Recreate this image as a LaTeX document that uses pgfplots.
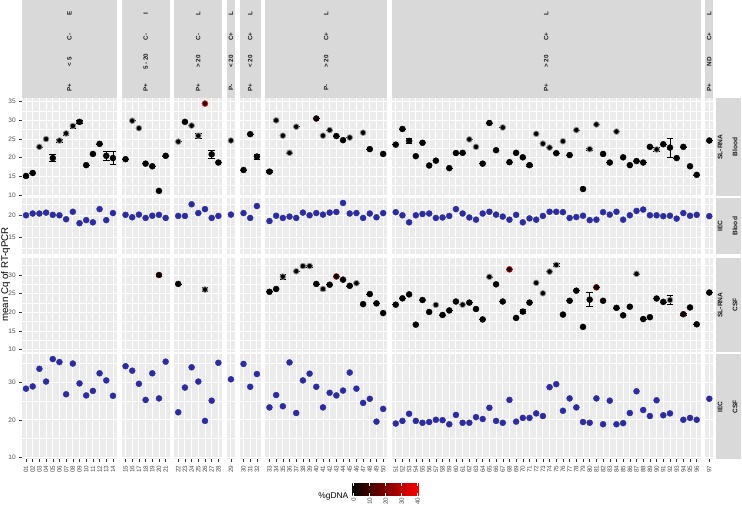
\documentclass[border=0pt]{standalone}
\usepackage{fontspec}
\setmainfont{Liberation Sans}
\usepackage{pgfplots}
\usepackage{pgfplotstable}
\pgfplotsset{compat=1.18}

\definecolor{g92}{RGB}{235,235,235}
\definecolor{g85}{RGB}{217,217,217}
\definecolor{g30}{RGB}{77,77,77}
\definecolor{g20}{RGB}{51,51,51}
\definecolor{g10}{RGB}{26,26,26}
\definecolor{faint}{RGB}{141,141,141}
\definecolor{iec}{RGB}{44,44,158}

% s = sample, p = panel, y = mean Cq, e = error, g = %gDNA
\pgfplotstableread{
s p y e g
1 1 15.1 0.3 0
2 1 15.9 0 0
5 1 19.9 0.9 0
9 1 29.6 0.4 0
10 1 18.0 0 0
11 1 21.0 0 0
12 1 23.7 0 0
13 1 20.5 1.3 0
14 1 19.9 1.7 0
15 2 19.6 0 0
18 2 18.4 0 0
19 2 17.7 0 0
20 2 11.1 0 0
21 2 20.5 0 0
23 3 29.6 0 0
26 3 34.5 0 40
27 3 20.9 1.0 0
28 3 18.7 0 0
30 5 16.7 0 0
31 5 26.3 0 0
32 5 20.3 0.7 0
33 6 16.25 0.3 0
40 6 30.5 0 5
43 6 25.8 0 0
44 6 24.7 0 0
48 6 22.3 0 0
50 6 21.0 0 0
51 7 23.5 0 0
52 7 27.7 0 0
53 7 24.5 0.7 0
54 7 20.4 0 0
55 7 24.0 0 0
56 7 17.9 0 0
57 7 19.2 0 0
59 7 17.2 0 0
60 7 21.25 0 0
61 7 21.3 0 0
64 7 18.4 0 0
65 7 29.3 0 0
66 7 22.0 0 0
68 7 18.8 0 0
69 7 21.3 0 0
70 7 20.1 0 0
71 7 18.0 0.3 0
75 7 21.2 0 0
77 7 20.7 0 0
79 7 11.6 0 0
82 7 21.0 0 0
83 7 18.7 0 0
85 7 20.1 0 0
86 7 18.0 0 0
87 7 19.1 0 0
88 7 18.7 0 0
89 7 22.9 0 0
91 7 23.6 0 0
92 7 22.7 2.5 0
93 7 19.9 0 0
94 7 22.9 0 0
95 7 17.7 0 0
96 7 15.4 0 0
97 8 24.6 0 0
}\slbloodA

\pgfplotstableread{
s p y e
3 1 22.9 0
4 1 25.0 0
6 1 24.6 0.4
7 1 26.5 0.4
8 1 28.5 0.5
16 2 29.9 0
17 2 27.9 0
22 3 24.3 0
24 3 28.6 0
25 3 25.9 0.7
29 4 24.6 0
34 6 30.0 0.3
35 6 25.9 0
36 6 21.3 0
37 6 28.3 0
41 6 25.9 0
42 6 27.4 0
45 6 25.4 0
47 6 26.7 0
62 7 24.9 0
63 7 22.9 0
67 7 28.1 0
72 7 26.4 0
73 7 23.75 0
74 7 22.7 0
76 7 24.4 0
78 7 27.4 0
80 7 22.3 0.3
81 7 28.9 0
84 7 27.0 0
90 7 22.2 0.5
}\slbloodB

\pgfplotstableread{
s p y
1 1 20.0
2 1 20.4
3 1 20.4
4 1 20.6
5 1 20.1
6 1 20.0
7 1 19.1
8 1 20.8
9 1 18.2
10 1 18.9
11 1 18.4
12 1 21.4
13 1 18.9
14 1 20.5
15 2 20.1
16 2 19.55
17 2 20.15
18 2 19.4
19 2 19.9
20 2 20.1
21 2 19.4
22 3 19.85
23 3 19.85
24 3 22.5
25 3 20.5
26 3 21.4
27 3 19.4
28 3 19.85
29 4 20.15
30 5 20.5
31 5 19.4
32 5 22.1
33 6 18.7
34 6 19.9
35 6 19.4
36 6 19.7
37 6 19.4
38 6 20.6
39 6 20.0
40 6 20.5
41 6 20.15
42 6 20.6
43 6 20.75
44 6 22.8
45 6 20.4
46 6 20.5
47 6 19.4
48 6 20.4
49 6 19.55
50 6 20.5
51 7 20.7
52 7 20.0
53 7 18.4
54 7 20.0
55 7 20.3
56 7 20.4
57 7 19.4
58 7 19.5
59 7 19.85
60 7 21.4
61 7 20.4
62 7 19.5
63 7 19.0
64 7 20.4
65 7 20.8
66 7 20.15
67 7 19.7
68 7 19.0
69 7 20.1
70 7 18.4
71 7 19.3
72 7 19.0
73 7 19.85
74 7 20.8
75 7 20.8
76 7 20.7
77 7 19.4
78 7 19.6
79 7 19.9
80 7 18.9
81 7 19.0
82 7 20.7
83 7 20.15
84 7 20.8
85 7 19.0
86 7 20.0
87 7 21.0
88 7 21.3
89 7 20.0
90 7 20.0
91 7 19.8
92 7 19.9
93 7 19.25
94 7 20.5
95 7 19.9
96 7 20.1
97 8 19.8
}\iecblood

\pgfplotstableread{
s p y e g
20 2 30.0 0.3 8
22 3 27.6 0 0
33 6 25.5 0 0
34 6 26.25 0 0
40 6 27.6 0 0
42 6 27.4 0 0
43 6 29.6 0 18
44 6 28.75 0 0
45 6 27.1 0 0
47 6 22.2 0 0
48 6 24.9 0 0
49 6 22.4 0 0
50 6 19.8 0 0
51 7 22.05 0 0
52 7 23.75 0 0
53 7 24.8 0 0
54 7 16.7 0 0
55 7 23.3 0 0
56 7 20.1 0 0
58 7 19.3 0 0
59 7 20.5 0 0
60 7 22.9 0 0
62 7 22.6 0 0
63 7 20.9 0 0
64 7 18.1 0 0
66 7 27.5 0 0
67 7 22.9 0 0
68 7 31.5 0 30
69 7 18.5 0 0
70 7 20.2 0.5 0
71 7 22.6 0 0
76 7 19.4 0 0
77 7 23.1 0 0
78 7 25.8 0 0
79 7 16.1 0 0
80 7 23.4 1.9 0
81 7 26.7 0 15
82 7 23.1 0 0
84 7 21.2 0 0
85 7 19.2 0 0
86 7 21.5 0 0
88 7 18.2 0 0
89 7 18.7 0 0
90 7 23.7 0 0
91 7 22.8 0 0
94 7 19.5 0.3 8
95 7 21.3 0 0
96 7 16.8 0 0
97 8 25.3 0 0
}\slcsfA

\pgfplotstableread{
s p y e
26 3 26.1 0.6
35 6 29.55 0.6
37 6 31.0 0
38 6 32.4 0.3
39 6 32.4 0.3
41 6 26.25 0.3
46 6 27.8 0
57 7 22.0 0
61 7 22.05 0
65 7 29.5 0
72 7 27.9 0
73 7 25.1 0
74 7 30.9 0
75 7 32.7 0.5
87 7 30.3 0
92 7 23.3 1.2
}\slcsfB

\pgfplotstableread{
s p y
1 1 28.3
2 1 28.9
3 1 33.6
4 1 30.2
5 1 36.2
6 1 35.4
7 1 26.8
8 1 35.0
9 1 29.7
10 1 26.5
11 1 27.7
12 1 32.4
13 1 30.5
14 1 26.4
15 2 34.3
16 2 33.1
17 2 29.6
18 2 25.3
19 2 32.4
20 2 25.7
21 2 35.5
22 3 22.0
23 3 28.6
24 3 34.0
25 3 30.2
26 3 19.7
27 3 25.1
28 3 35.2
29 4 30.8
30 5 34.9
31 5 28.8
32 5 32.2
33 6 23.3
34 6 26.6
35 6 23.6
36 6 35.3
37 6 21.8
38 6 30.5
39 6 32.3
40 6 28.8
41 6 23.3
42 6 27.2
43 6 26.5
44 6 27.8
45 6 32.6
46 6 28.3
47 6 24.5
48 6 25.6
49 6 19.5
50 6 22.9
51 7 19.0
52 7 19.7
53 7 21.6
54 7 19.7
55 7 19.2
56 7 19.4
57 7 20.0
58 7 19.9
59 7 18.8
60 7 21.3
61 7 19.2
62 7 19.2
63 7 20.7
64 7 20.2
65 7 23.2
66 7 19.7
67 7 19.2
68 7 25.3
69 7 19.5
70 7 20.5
71 7 20.5
72 7 21.7
73 7 21.0
74 7 28.7
75 7 29.5
76 7 22.4
77 7 25.7
78 7 23.3
79 7 19.4
80 7 19.2
81 7 25.7
82 7 18.8
83 7 25.1
84 7 18.8
85 7 19.1
86 7 21.8
87 7 27.6
88 7 22.6
89 7 21.0
90 7 25.2
91 7 21.2
92 7 21.7
94 7 20.0
95 7 20.5
96 7 20.0
97 8 25.6
}\ieccsf

% white gaps between the facet columns
\newcommand\gapfill[2]{%
  \fill[white] (axis cs:365,#1) rectangle (axis cs:382,#2);
  \fill[white] (axis cs:562,#1) rectangle (axis cs:579,#2);
  \fill[white] (axis cs:759,#1) rectangle (axis cs:776,#2);
  \fill[white] (axis cs:806,#1) rectangle (axis cs:823,#2);
  \fill[white] (axis cs:903,#1) rectangle (axis cs:920,#2);
  \fill[white] (axis cs:1375,#1) rectangle (axis cs:1392,#2);
  \fill[white] (axis cs:2547,#1) rectangle (axis cs:2564,#2);
}

\pgfplotsset{
  panel/.style={
    scale only axis, width=691.3pt, anchor=south west,
    xmin=10, xmax=2594,
    axis lines*=left, axis line style={draw=none},
    axis background/.style={fill=g92},
    xtick={25,50,...,350,397,422,...,547,594,619,...,744,791,838,863,888,935,960,...,1360,1407,1432,...,2532,2579},
    xmajorgrids, ymajorgrids, yminorgrids,
    major grid style={white, line width=0.9pt},
    minor grid style={white, line width=0.45pt},
    tick align=outside, major tick length=2.75pt, minor tick length=0pt,
    tick style={g20, line width=0.5pt},
    yticklabel style={font=\fontsize{6.5}{7}\selectfont, text=g30},
    /pgf/number format/assume math mode=true,
    colormap={gd}{rgb255=(0,0,0) rgb255=(255,0,0)},
    point meta min=0, point meta max=40,
    clip=false,
  },
  noxlab/.style={xticklabels={}, xtick style={draw=none}},
  colpt/.style={scatter, only marks, mark=*, mark size=3pt, point meta=explicit,
    scatter/use mapped color={draw=mapped color, fill=mapped color}},
  faintpt/.style={only marks, mark=*, mark size=3pt, mark options={draw=faint, fill=faint}},
  blupt/.style={only marks, mark=*, mark size=3pt, mark options={draw=iec, fill=iec}},
  ebar/.style={forget plot, only marks, mark=none,
    error bars/.cd, y dir=both, y explicit,
    error bar style={black, line width=0.6pt},
    error mark options={rotate=90, black, line width=0.6pt, mark size=3.3pt}},
}

\begin{document}
\begin{tikzpicture}[x=1pt,y=1pt]
\useasboundingbox (0,0) rectangle (742,505);

% facet strips on top
\begin{axis}[scale only axis, width=691.3pt, height=97.7pt, anchor=south west,
  at={(22pt,407.3pt)}, xmin=10, xmax=2594, ymin=-97.7, ymax=0, hide axis, clip=false]
\foreach \a/\b in {10/365,382/562,579/759,776/806,823/903,920/1375,1392/2547,2564/2594}{
  \edef\temp{\noexpand\fill[g85] (axis cs:\a,-97.7) rectangle (axis cs:\b,0);}\temp
}
\foreach \c/\u/\v/\w/\z in {187.5/P+/< 5/C-/E, 472/P+/5 - 20/C-/I, 669/P+/> 20/C-/L,
  791/P-/< 20/C+/L, 863/P+/< 20/C+/L, 1147.5/P-/> 20/C+/L, 1969.5/P+/> 20/C+/L, 2579/P+/ND/C+/L}{
  \edef\temp{\noexpand\node[rotate=90, font=\noexpand\fontsize{6.3}{7}\noexpand\selectfont\noexpand\bfseries, text=g10] at (axis cs:\c,-87.3) {\u};
    \noexpand\node[rotate=90, font=\noexpand\fontsize{6.3}{7}\noexpand\selectfont\noexpand\bfseries, text=g10] at (axis cs:\c,-61.7) {\v};
    \noexpand\node[rotate=90, font=\noexpand\fontsize{6.3}{7}\noexpand\selectfont\noexpand\bfseries, text=g10] at (axis cs:\c,-36.7) {\w};
    \noexpand\node[rotate=90, font=\noexpand\fontsize{6.3}{7}\noexpand\selectfont\noexpand\bfseries, text=g10] at (axis cs:\c,-13.3) {\z};}\temp
}
\end{axis}

% SL-RNA, Blood
\begin{axis}[panel, noxlab, at={(22pt,309pt)}, height=98pt, ymin=9.73, ymax=36.0,
  ytick={10,15,...,35}, minor ytick={12.5,17.5,...,32.5}]
\gapfill{9.73}{36.0}
\addplot[colpt] table[x expr=25*\thisrow{s}+22*(\thisrow{p}-1), y=y, meta=g] {\slbloodA};
\addplot[faintpt] table[x expr=25*\thisrow{s}+22*(\thisrow{p}-1), y=y] {\slbloodB};
\addplot[ebar] table[x expr=25*\thisrow{s}+22*(\thisrow{p}-1), y=y, y error=e] {\slbloodA};
\addplot[ebar] table[x expr=25*\thisrow{s}+22*(\thisrow{p}-1), y=y, y error=e] {\slbloodB};
\end{axis}

% IEC, Blood
\begin{axis}[panel, noxlab, at={(22pt,250.7pt)}, height=56pt, ymin=11.14, ymax=23.86,
  ytick={15,20}, minor ytick={12.5,17.5,22.5}]
\gapfill{11.14}{23.86}
\addplot[blupt] table[x expr=25*\thisrow{s}+22*(\thisrow{p}-1), y=y] {\iecblood};
\end{axis}

% SL-RNA, CSF
\begin{axis}[panel, noxlab, at={(22pt,153.3pt)}, height=93.4pt, ymin=9.46, ymax=34.47,
  ytick={10,15,...,30}, minor ytick={12.5,17.5,...,32.5}]
\gapfill{9.46}{34.47}
\addplot[colpt] table[x expr=25*\thisrow{s}+22*(\thisrow{p}-1), y=y, meta=g] {\slcsfA};
\addplot[faintpt] table[x expr=25*\thisrow{s}+22*(\thisrow{p}-1), y=y] {\slcsfB};
\addplot[ebar] table[x expr=25*\thisrow{s}+22*(\thisrow{p}-1), y=y, y error=e] {\slcsfA};
\addplot[ebar] table[x expr=25*\thisrow{s}+22*(\thisrow{p}-1), y=y, y error=e] {\slcsfB};
\end{axis}

% IEC, CSF
\begin{axis}[panel, at={(22pt,45.5pt)}, height=105.2pt, ymin=9.4, ymax=37.47,
  ytick={10,20,30}, minor ytick={15,25,35},
  xticklabels={01,02,03,04,05,06,07,08,09,10,11,12,13,14,15,16,17,18,19,20,21,22,23,24,25,26,27,28,29,30,31,32,33,34,35,36,37,38,39,40,41,42,43,44,45,46,47,48,49,50,51,52,53,54,55,56,57,58,59,60,61,62,63,64,65,66,67,68,69,70,71,72,73,74,75,76,77,78,79,80,81,82,83,84,85,86,87,88,89,90,91,92,93,94,95,96,97},
  xticklabel style={rotate=90, anchor=east, font=\fontsize{6.3}{7}\selectfont, text=g30}]
\gapfill{9.4}{37.47}
\addplot[blupt] table[x expr=25*\thisrow{s}+22*(\thisrow{p}-1), y=y] {\ieccsf};
\end{axis}

% row strips on the right
\tikzset{rs/.style={rotate=90, font=\fontsize{6.6}{7}\selectfont\bfseries, text=g10}}
\fill[g85] (715.5,309) rectangle (741,407);
\node[rs] at (720,358) {SL-RNA}; \node[rs] at (735,358) {Blood};
\fill[g85] (715.5,250.7) rectangle (741,306.7);
\node[rs] at (720,278.7) {IEC}; \node[rs] at (735,278.7) {Blood};
\fill[g85] (715.5,153.3) rectangle (741,246.7);
\node[rs] at (720,200) {SL-RNA}; \node[rs] at (735,200) {CSF};
\fill[g85] (715.5,45.5) rectangle (741,150.7);
\node[rs] at (720,98.1) {IEC}; \node[rs] at (735,98.1) {CSF};

% y title
\node[rotate=90, font=\fontsize{9.7}{11}\selectfont] at (5.5,230.5) {mean Cq of RT-qPCR};

% colour bar legend
\node[anchor=east, font=\fontsize{8.4}{9}\selectfont, inner sep=0pt] at (348.5,9) {\%gDNA};
\shade[left color=black, right color=red] (352.3,9) rectangle (418.8,21.7);
\foreach \v in {0,10,20,30,40}{
  \draw[white, line width=0.5pt] ({353.7+1.6*\v},9) -- ++(0,2.5);
  \draw[white, line width=0.5pt] ({353.7+1.6*\v},21.7) -- ++(0,-2.5);
  \node[rotate=90, anchor=east, inner sep=0pt, font=\fontsize{6.3}{7}\selectfont, text=g30] at ({353.7+1.6*\v},7.3) {\v};
}
\end{tikzpicture}
\end{document}
